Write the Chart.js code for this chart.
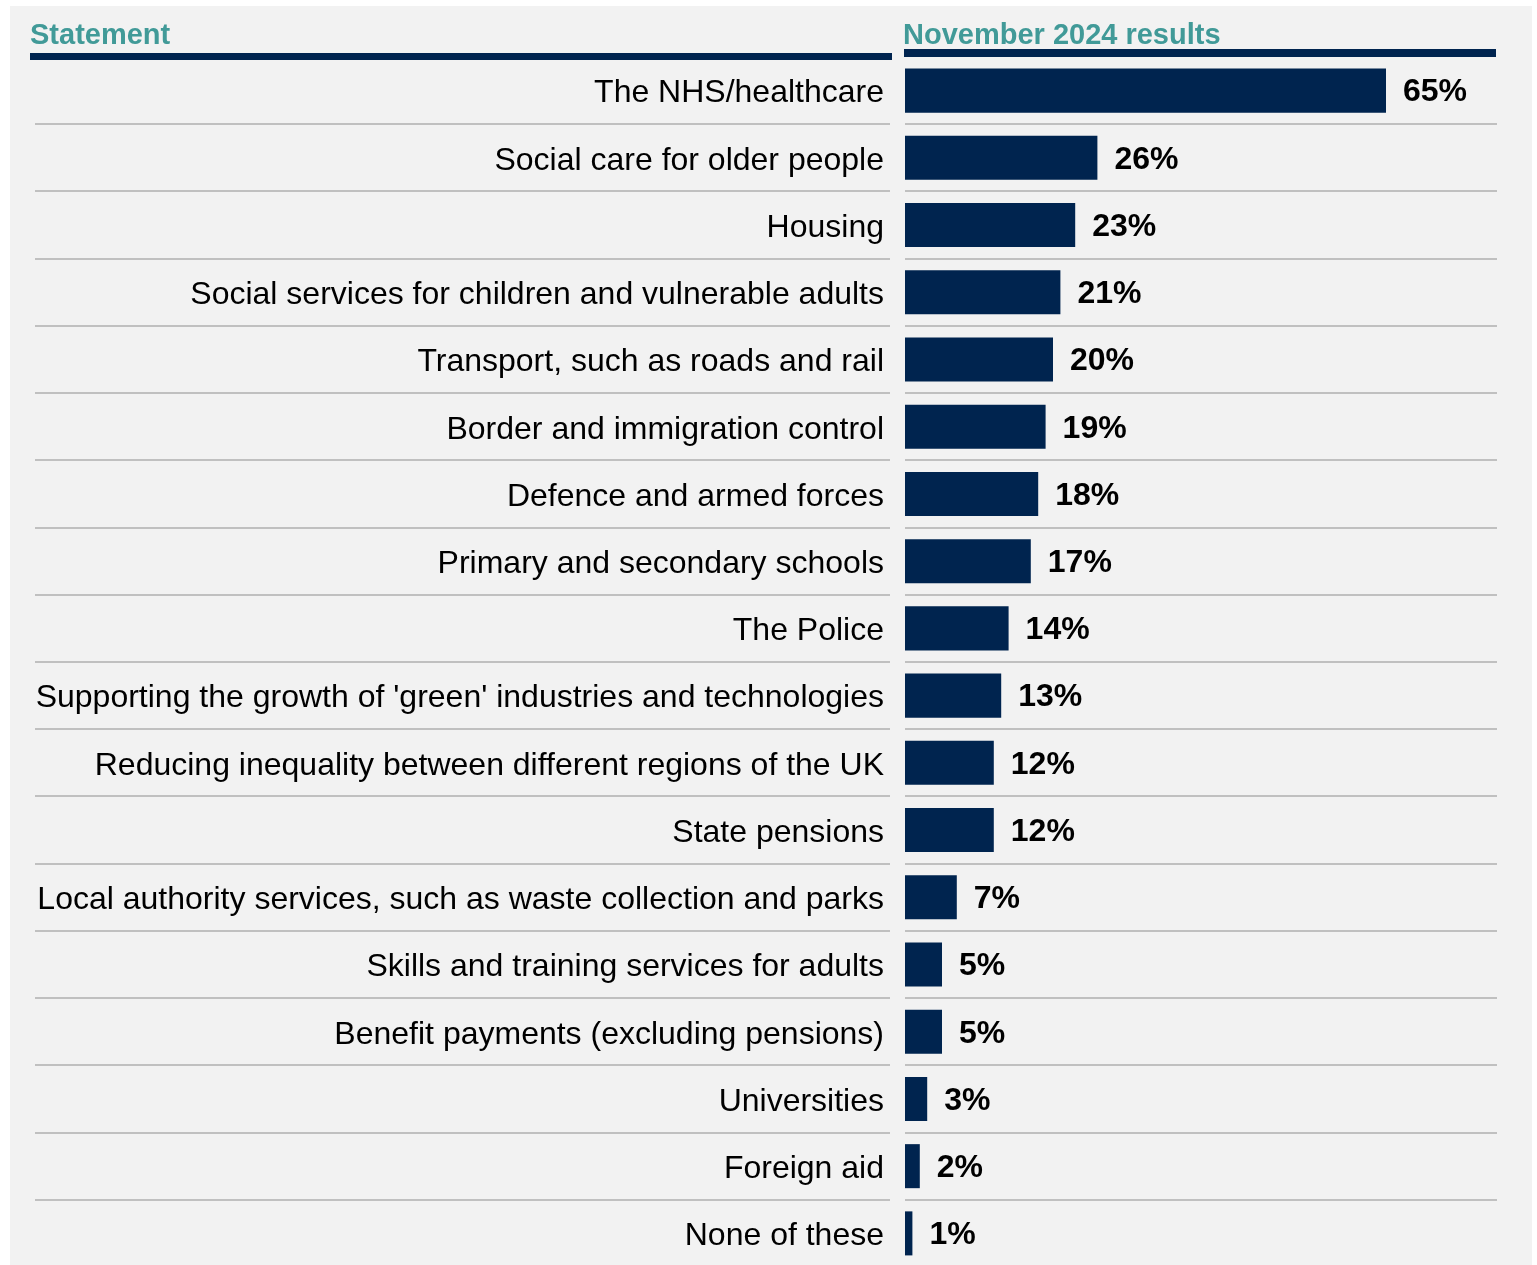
<!DOCTYPE html>
<html>
<head>
<meta charset="utf-8">
<script src="https://cdn.jsdelivr.net/npm/chart.js@4.4.1/dist/chart.umd.min.js"></script>
<style>
  html, body { margin: 0; padding: 0; background: #fff; overflow: hidden; }
  #panel { position: absolute; left: 10px; top: 6px; width: 1522px; height: 1300px; background: #f2f2f2; }
  #chart { position: absolute; left: 0; top: 0; }
</style>
</head>
<body>
<div id="panel"></div>
<canvas id="chart" width="1537" height="1280"></canvas>
<script>
const statements = [
    'The NHS/healthcare',
    'Social care for older people',
    'Housing',
    'Social services for children and vulnerable adults',
    'Transport, such as roads and rail',
    'Border and immigration control',
    'Defence and armed forces',
    'Primary and secondary schools',
    'The Police',
    "Supporting the growth of 'green' industries and technologies",
    'Reducing inequality between different regions of the UK',
    'State pensions',
    'Local authority services, such as waste collection and parks',
    'Skills and training services for adults',
    'Benefit payments (excluding pensions)',
    'Universities',
    'Foreign aid',
    'None of these'
];
const results = [65, 26, 23, 21, 20, 19, 18, 17, 14, 13, 12, 12, 7, 5, 5, 3, 2, 1];
const headers = ['Statement', 'November 2024 results'];

const NAVY = '#00244f';
const TEAL = '#419a98';
const FONT = '"Liberation Sans", Arial, sans-serif';

const decor = {
    id: 'decor',
    afterDraw(chart) {
        const ctx = chart.ctx;
        const y = chart.scales.y;
        const area = chart.chartArea;
        ctx.save();
        // row separators
        ctx.strokeStyle = '#c0c0c0';
        ctx.lineWidth = 2;
        for (let i = 1; i < statements.length; i++) {
            const py = Math.round((y.getPixelForValue(i - 1) + y.getPixelForValue(i)) / 2);
            ctx.beginPath();
            ctx.moveTo(35, py); ctx.lineTo(890, py);
            ctx.moveTo(area.left, py); ctx.lineTo(area.right, py);
            ctx.stroke();
        }
        // headers
        ctx.fillStyle = TEAL;
        ctx.font = 'bold 29px ' + FONT;
        ctx.textBaseline = 'alphabetic';
        ctx.textAlign = 'left';
        ctx.fillText(headers[0], 30, 44);
        ctx.fillText(headers[1], 903, 44);
        ctx.fillStyle = NAVY;
        ctx.fillRect(30, 53, 862, 7);
        ctx.fillRect(904, 49, 592, 8);
        // category labels
        ctx.fillStyle = '#000';
        ctx.font = '32px ' + FONT;
        ctx.textBaseline = 'middle';
        ctx.textAlign = 'right';
        statements.forEach((s, i) => {
            ctx.fillText(s, 884, y.getPixelForValue(i) + 3);
        });
        // value labels
        ctx.font = 'bold 32px ' + FONT;
        ctx.textAlign = 'left';
        chart.getDatasetMeta(0).data.forEach((bar, i) => {
            ctx.fillText(results[i] + '%', bar.x + 17, bar.y + 2);
        });
        ctx.restore();
    }
};

new Chart(document.getElementById('chart'), {
    type: 'bar',
    data: {
        labels: statements,
        datasets: [{
            data: results,
            backgroundColor: NAVY,
            barPercentage: 0.655,
            categoryPercentage: 1
        }]
    },
    options: {
        indexAxis: 'y',
        responsive: false,
        animation: false,
        layout: { padding: { top: 57, right: 40, bottom: 13, left: 905 } },
        plugins: { legend: { display: false }, tooltip: { enabled: false } },
        scales: {
            x: { min: 0, max: 80, display: false },
            y: { display: false }
        }
    },
    plugins: [decor]
});
</script>
</body>
</html>
